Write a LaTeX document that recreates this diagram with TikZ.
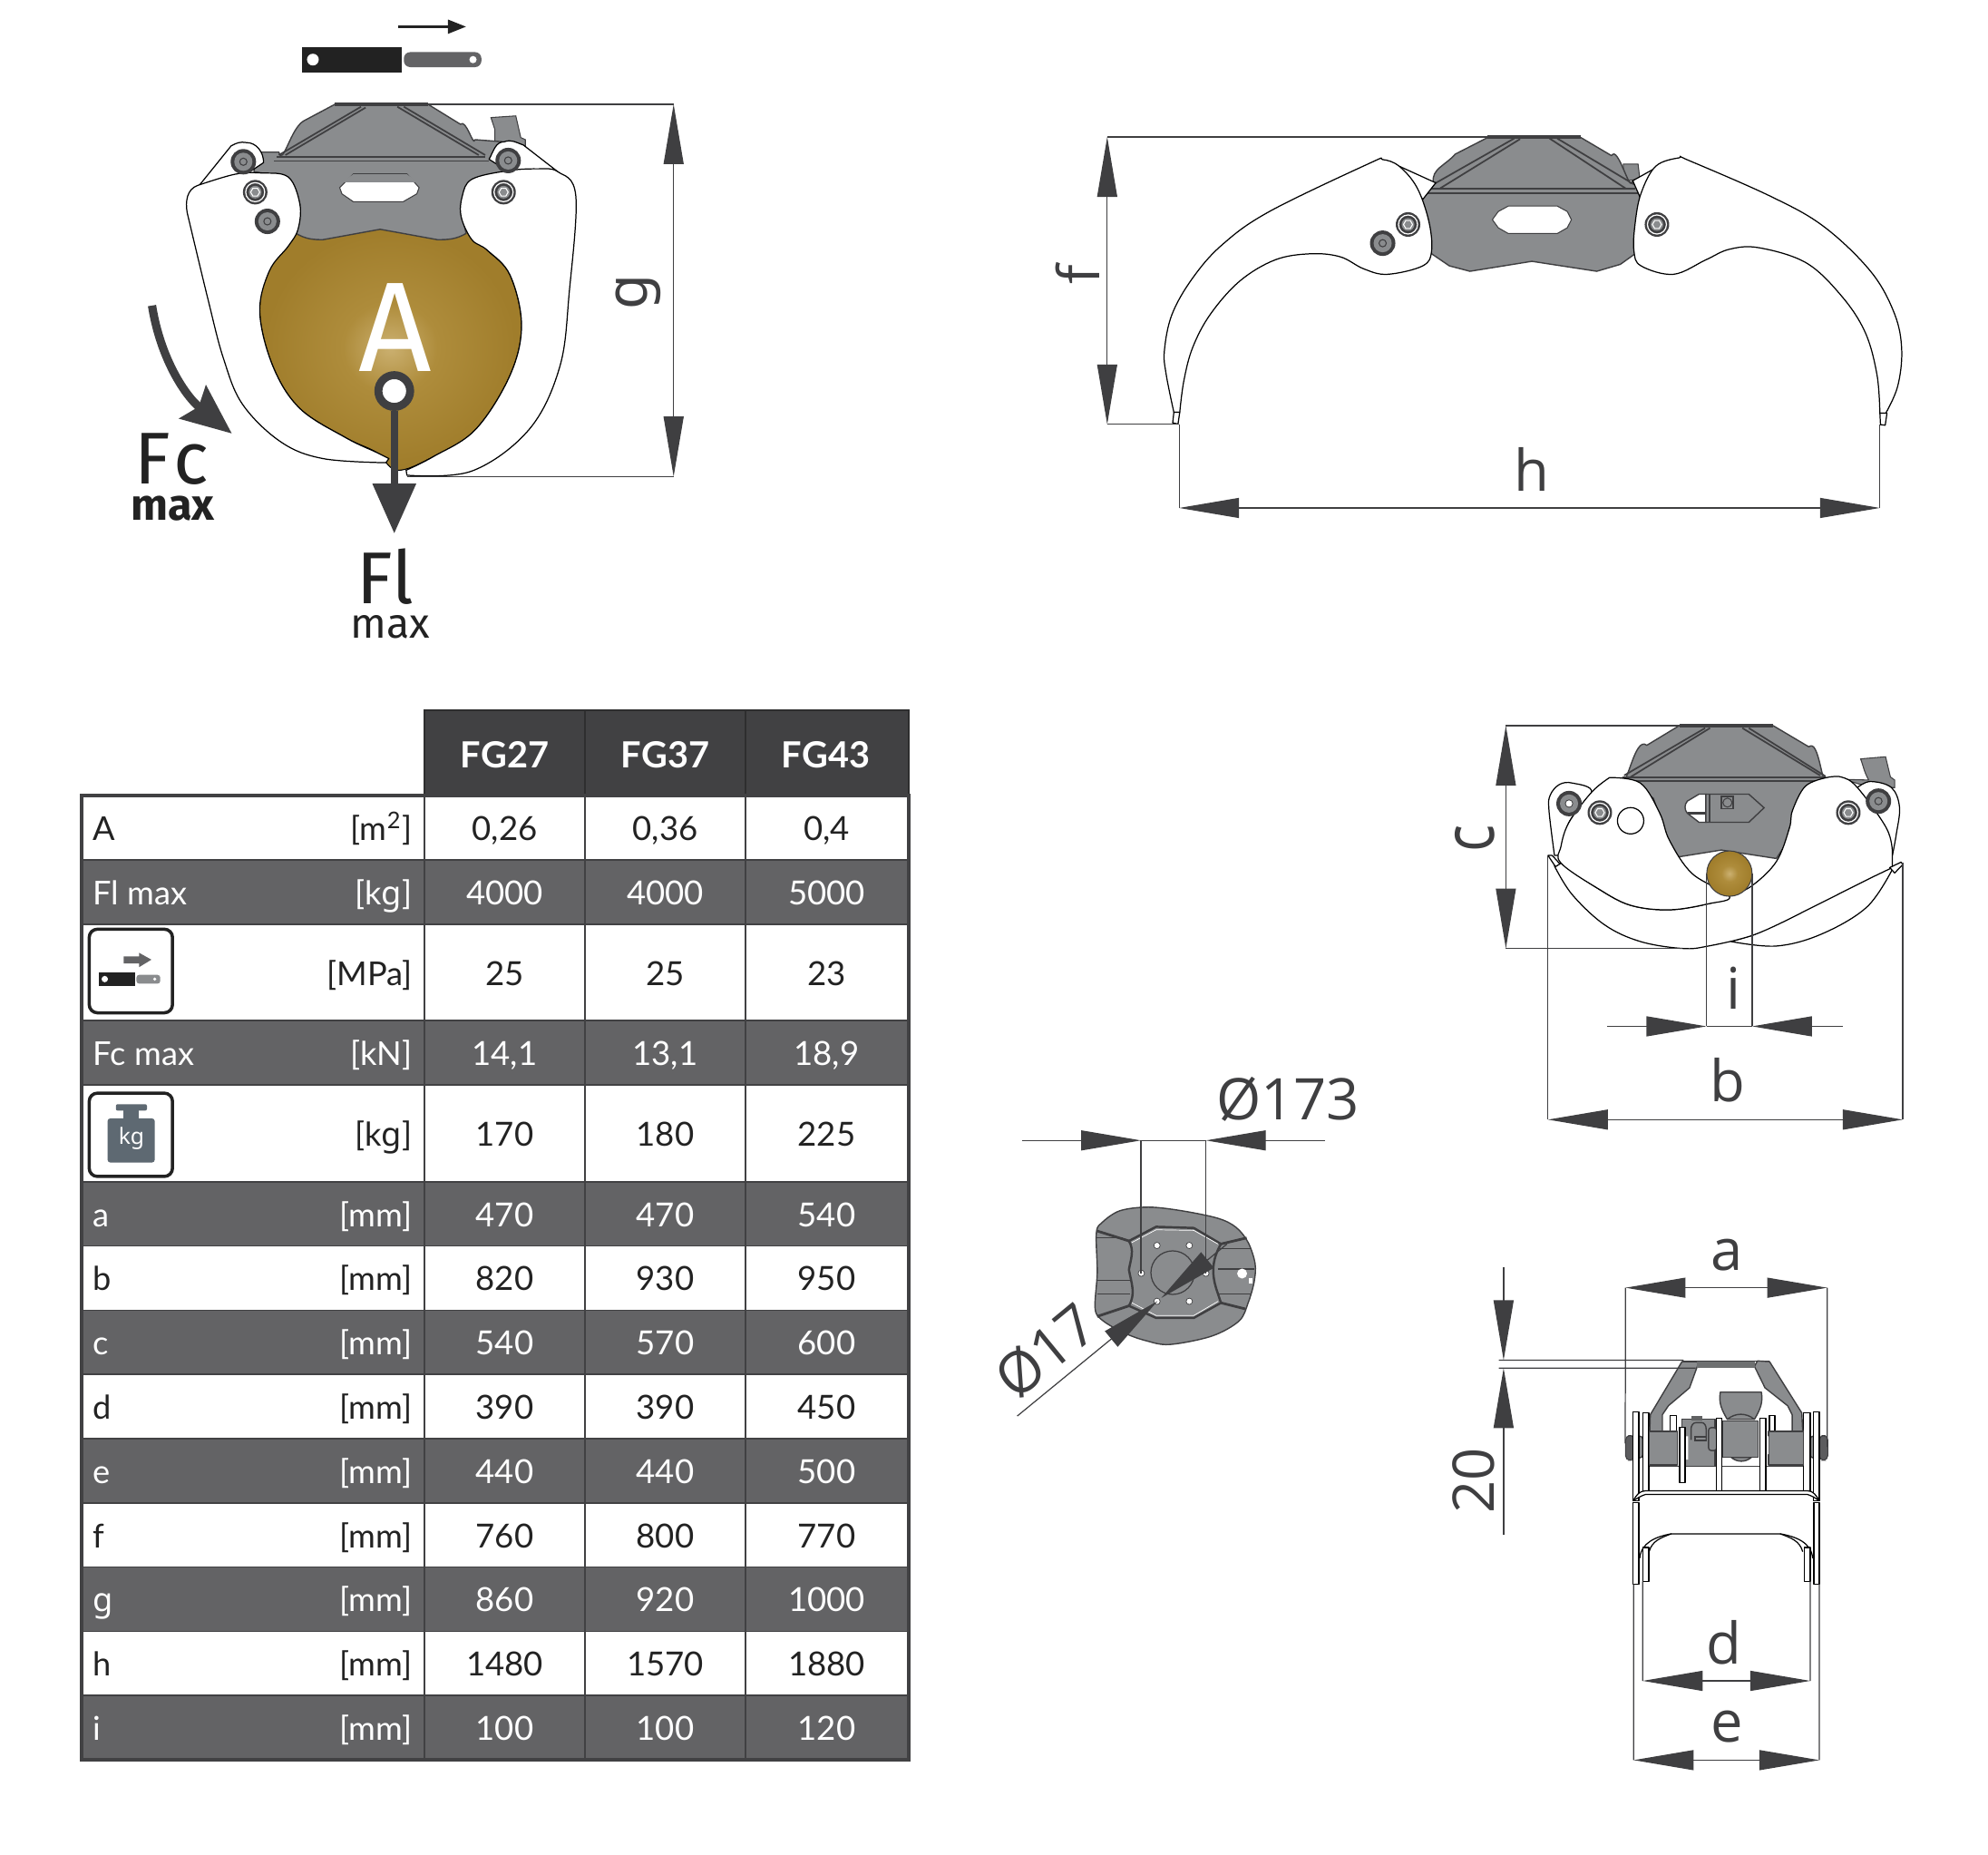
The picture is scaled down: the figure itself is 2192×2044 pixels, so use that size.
\documentclass[tikz,border=0pt]{standalone}
\usepackage{fontspec}
\setmainfont{Lato}
\newfontfamily\dimfont{Open Sans}
\newfontfamily\bigfont{Fira Sans}
\newfontfamily\gfont{Noto Sans}
\usetikzlibrary{arrows.meta,calc}
\definecolor{dimink}{HTML}{3F3F41}
\definecolor{bodygrey}{HTML}{8A8C8E}
\definecolor{rowgrey}{HTML}{636365}
\definecolor{headgrey}{HTML}{414143}
\definecolor{cellink}{HTML}{222222}
\definecolor{loadbrown}{HTML}{A07D2B}
\definecolor{loadmid}{HTML}{AE8C3B}
\definecolor{loadlight}{HTML}{CBB070}
\definecolor{weightgrey}{HTML}{5E6972}
\pgfdeclareradialshading{loadglow}{\pgfpointorigin}{color(0bp)=(loadlight); color(9bp)=(loadmid); color(24bp)=(loadbrown); color(50bp)=(loadbrown)}
\tikzset{
  viewA/.style={shift={(120,0)},x=0.004209cm,y=-0.004591cm},
  viewB/.style={shift={(1120,120)},x=0.006506cm,y=-0.003333cm},
  viewC/.style={shift={(1580,780)},x=0.003571cm,y=-0.003333cm},
  viewD/.style={shift={(1090,1170)},x=0.003333cm,y=-0.003333cm},
  viewE/.style={shift={(1580,1350)},x=0.003333cm,y=-0.003954cm},
  viewF/.style={shift={(80,770)},x=0.006124cm,y=-0.003571cm},
  dimtip/.tip={Triangle[length=0.66cm,width=0.22cm]},
  dimline/.style={draw=dimink,line width=0.35pt,{dimtip}-{dimtip},dimink},
  dimhead/.style={draw=dimink,line width=0.35pt,-{dimtip},dimink},
  extline/.style={draw=dimink,line width=0.35pt},
  dimtext/.style={text=dimink,inner sep=0pt,font=\dimfont\fontsize{18}{20}\selectfont},
  jaw/.style={draw=black,fill=white,line width=0.35pt,line join=round},
  body/.style={draw=dimink,fill=bodygrey,line width=0.4pt,line join=round},
  edge/.style={draw=dimink,line width=0.5pt},
  celltext/.style={inner sep=0pt,font=\fontsize{10.3}{12}\selectfont},
  valtext/.style={inner sep=0pt,font=\fontsize{10.4}{12}\selectfont},
  headtext/.style={inner sep=0pt,text=white,font=\bfseries\fontsize{11.3}{13}\selectfont},
  iconbox/.style={draw=cellink,fill=white,line width=1pt,rounded corners=0.09cm},
  hexbolt/.pic={
    \fill[dimink] (0,0) circle[radius=0.135cm];
    \draw[white,line width=0.35pt] (0,0) circle[radius=0.105cm];
    \fill[bodygrey] (0,0) circle[radius=0.07cm];
    \draw[white,line width=0.3pt] (0:0.05cm)--(60:0.05cm)--(120:0.05cm)--(180:0.05cm)--(240:0.05cm)--(300:0.05cm)--cycle;
  },
  pinbolt/.pic={
    \fill[dimink] (0,0) circle[radius=0.14cm];
    \fill[bodygrey] (0,0) circle[radius=0.1cm];
    \draw[dimink,line width=0.3pt] (0,0) circle[radius=0.04cm];
  }
}
\begin{document}
\begin{tikzpicture}[x=0.01cm,y=-0.01cm]
\useasboundingbox (0,0) rectangle (2192,2044);

% closed grapple with load area
\begin{scope}[viewA]
\shade[shading=loadglow,draw=black,line width=0.3pt]
  plot[smooth cycle,tension=0.6] coordinates {(490,555) (420,640) (395,750) (430,880) (500,980) (620,1050) (700,1085) (755,1128) (850,1095) (960,1030) (1050,900) (1080,780) (1050,660) (990,600) (935,555) (710,540)};
\fill[bodygrey,draw=dimink,line width=0.3pt] (1000,282)--(1065,278)--(1078,330)--(1090,335)--(1090,350)--(1010,345)--(1010,310)--cycle;
\filldraw[body] (592,250)--(835,250)--(920,298) to[out=45,in=-100] (958,335)--(1030,340)--(1040,410)--(960,430)--(920,500)--(935,560) to[out=-150,in=0] (860,575)--(710,550)--(560,575) to[out=180,in=-30] (490,560)--(500,490)--(470,425)--(380,412)--(385,365)--(445,365) to[out=-75,in=-150] (510,290)--cycle;
\draw[edge] (440,376)--(985,376) (432,386)--(995,386);
\draw[edge] (445,372)--(660,256) (462,372)--(672,258) (755,256)--(968,372) (772,256)--(985,372);
\draw[line width=1.2pt,dimink] (592,251)--(835,251);
\filldraw[draw=dimink,fill=white,line width=0.3pt] (604,450)--(640,417)--(780,417)--(812,450)--(806,465)--(770,484)--(640,484)--(610,465)--cycle;
\fill[bodygrey] (608,437)--(640,418)--(780,418)--(808,437)--cycle;
% pivot ears
\filldraw[jaw] (232,450)--(320,350) to[out=30,in=170] (360,342) to[out=0,in=90] (405,390)--(340,430)--cycle;
\filldraw[jaw] (1175,412)--(1085,348) to[out=160,in=20] (1035,340) to[out=180,in=60] (995,382)--(1060,420)--cycle;
% jaws
\filldraw[jaw] plot[smooth,tension=0.6] coordinates {(725,1110) (560,1100) (450,1060) (350,970) (300,860) (260,720) (205,510)} to[out=100,in=200] (232,445) -- plot[smooth,tension=0.6] coordinates {(232,445) (330,418) (400,415) (470,425) (500,490) (495,550) (470,590) (420,650) (395,750) (430,880) (500,980) (620,1050) (700,1085) (733,1100)} --cycle;
\filldraw[jaw] plot[smooth,tension=0.6] coordinates {(778,1128) (850,1095) (960,1030) (1050,900) (1080,780) (1050,660) (990,600) (950,575) (922,520) (925,470) (950,430) (1040,410) (1120,405) (1175,412) (1222,470) (1205,700) (1180,880) (1100,1030) (950,1130) (780,1140)} --cycle;
\pic at (352,388) {pinbolt};
\pic at (1045,385) {pinbolt};
\pic at (383,461) {hexbolt};
\pic at (1033,461) {hexbolt};
\pic at (415,531) {pinbolt};
\node[inner sep=0pt,text=white,font=\bigfont\fontsize{40}{42}\selectfont] (loadA) at (749,785) {A};
% force arrows
\draw[dimink,line width=2.6pt,-{Stealth[length=0.55cm,width=0.46cm,inset=0.08cm]}] (113,733) .. controls (135,860) and (200,950) .. (322,1040);
\node[circle,draw=dimink,fill=white,line width=2.5pt,minimum size=0.35cm,inner sep=0pt] (flring) at (747,938) {};
\coordinate (fltip) at (747,1280);
\draw[dimink,line width=2.4pt,-{Triangle[length=0.55cm,width=0.46cm]}] (flring)--(fltip);
\node[anchor=base west,inner sep=0pt,text=cellink,font=\bigfont\fontsize{23}{25}\selectfont] (fclabel) at (66,1160) {F\kern1pt c};
\node[anchor=base,inner sep=0pt,text=cellink,font=\bigfont\bfseries\fontsize{13.8}{15}\selectfont] (fcmax) at (167,1247) {max};
\node[anchor=base west,inner sep=0pt,text=cellink,font=\bigfont\fontsize{23}{25}\selectfont] (fllabel) at (648,1449) {Fl};
\node[anchor=base,inner sep=0pt,text=cellink,font=\bigfont\fontsize{13.2}{15}\selectfont] (flmax) at (737,1530) {max};
% cylinder
\fill[cellink] (505,113) rectangle (767,173);
\fill[white] (534,143) circle[radius=0.065cm];
\fill[rowgrey,rounded corners=0.07cm] (772,125) rectangle (975,161);
\fill[white] (953,143) circle[radius=0.04cm];
\coordinate (stroke1) at (758,64);
\coordinate (stroke2) at (935,64);
\draw[cellink,line width=0.8pt,-{Triangle[length=0.2cm,width=0.15cm]}] (stroke1)--(stroke2);
% g
\coordinate (gtop) at (1478,250);
\coordinate (gbot) at (1478,1143);
\draw[extline] (835,250)--(gtop);
\draw[extline] (780,1143)--(gbot);
\draw[dimline] (gtop)--(gbot);
\node[dimtext,rotate=90,font=\gfont\fontsize{18}{20}\selectfont] (labg) at (1385,700) {g};
\end{scope}

% open grapple
\begin{scope}[viewB]
\fill[bodygrey,draw=dimink,line width=0.3pt] (1030,183)--(1055,183)--(1058,232)--(1030,240)--cycle;
\filldraw[body] (800,95)--(958,95)--(1010,155) to[out=60,in=-100] (1045,240)--(1062,278)--(1050,480)--(1025,515)--(985,538)--(875,505)--(770,538)--(735,520)--(705,480)--(685,280)--(708,245) to[out=100,in=-130] (745,150)--cycle;
\draw[edge] (700,265)--(1050,265) (688,280)--(1062,280);
\draw[edge] (708,250)--(845,98) (718,265)--(855,100) (905,98)--(1035,265) (918,98)--(1048,250);
\draw[line width=1.2pt,dimink] (800,94)--(958,94);
\filldraw[draw=dimink,fill=white,line width=0.3pt] (835,322)--(918,322)--(935,340)--(942,367)--(935,394)--(918,413)--(835,413)--(818,394)--(808,367)--(818,340)--cycle;
\filldraw[jaw] (650,190)--(712,245)--(690,300)--cycle;
\filldraw[jaw] (1090,190)--(1046,238)--(1060,300)--cycle;
\filldraw[jaw] plot[smooth,tension=0.6] coordinates {(268,1005) (255,880) (252,800) (265,680) (300,560) (350,450) (430,340) (600,180) (622,168) (650,190) (680,260) (700,370) (705,470) (690,520) (630,548) (590,530) (550,490) (500,480) (440,500) (380,570) (330,680) (300,790) (285,900) (278,1005)} --cycle;
\filldraw[jaw] (268,1005)--(266,1040)--(275,1044)--(278,1005)--cycle;
\filldraw[jaw] plot[smooth,tension=0.6] coordinates {(1475,1008) (1495,920) (1502,800) (1490,680) (1450,540) (1370,390) (1280,290) (1140,170) (1125,162) (1085,190) (1060,280) (1050,380) (1048,470) (1060,520) (1115,548) (1170,500) (1210,465) (1260,460) (1340,510) (1400,620) (1440,740) (1460,880) (1465,1008)} --cycle;
\filldraw[jaw] (1465,1008)--(1466,1046)--(1474,1048)--(1477,1008)--cycle;
\pic at (665,383) {hexbolt};
\pic at (1087,383) {hexbolt};
\pic at (622,445) {pinbolt};
\coordinate (ftop) at (155,93);
\coordinate (fbot) at (155,1045);
\coordinate (hleft) at (277,1322);
\coordinate (hright) at (1465,1322);
\draw[extline] (ftop)--(800,93) (fbot)--(277,1045) (277,1045)--(hleft) (1465,1045)--(hright);
\draw[dimline] (ftop)--(fbot);
\draw[dimline] (hleft)--(hright);
\node[dimtext,rotate=90] (labf) at (105,550) {f};
\node[dimtext] (labh) at (875,1195) {h};
\end{scope}

% half closed grapple, small load
\begin{scope}[viewC]
\fill[bodygrey,draw=dimink,line width=0.3pt] (1320,170)--(1397,163)--(1412,230)--(1425,240)--(1425,265)--(1350,265)--(1270,238)--(1345,240) to[out=120,in=-70] cycle;
\filldraw[body] (760,60)--(1050,60)--(1160,130) to[out=40,in=-110] (1215,232)--(1150,300)--(1100,400)--(1090,450)--(1060,500)--(890,472)--(756,495)--(730,450)--(680,300)--(580,235) to[out=-70,in=140] (660,125)--cycle;
\draw[edge] (585,232)--(1212,232) (600,244)--(1200,244);
\draw[edge] (590,225)--(840,68) (610,230)--(855,68) (955,68)--(1195,225) (975,68)--(1212,228);
\draw[line width=1pt,dimink] (760,60)--(1050,60);
\filldraw[draw=dimink,fill=white,line width=0.4pt] (842,287)--(821,287)--(785,310) to[out=-130,in=130] (785,350)--(821,380)--(842,380)--cycle;
\draw[dimink,line width=0.6pt] (786,350)--(842,350);
\filldraw[draw=dimink,fill=bodygrey,line width=0.4pt] (842,287)--(975,287)--(1022,332)--(975,380)--(842,380)--cycle;
\draw[dimink,line width=0.4pt] (854,287)--(854,380);
\draw[dimink,line width=0.5pt] (891,295) rectangle (927,335);
\draw[dimink,line width=0.3pt] (909,315) circle[radius=0.05cm];
% ears
\filldraw[jaw] plot[smooth,tension=0.6] coordinates {(375,490) (358,340) (362,290) (390,255) (430,250) (490,280) (420,380) (395,490)} --cycle;
\filldraw[jaw] plot[smooth,tension=0.6] coordinates {(1310,265) (1350,245) (1415,265) (1440,330) (1430,420) (1418,490)} --cycle;
% jaws
\filldraw[jaw] plot[smooth,tension=0.6] coordinates {(1420,532) (1340,660) (1200,750) (1060,790) (920,775)} --(985,755)--(1415,525)--cycle;
\filldraw[jaw] plot[smooth,tension=0.6] coordinates {(1215,232) (1260,230) (1310,265) (1400,400) (1418,480)} --(1418,530)--(1350,565)--(1100,700)--plot[smooth,tension=0.6] coordinates {(1100,700) (985,755) (850,790) (770,798) (640,775) (530,720) (430,620) (375,525)} --(395,515)--plot[smooth,tension=0.6] coordinates {(395,515) (510,600) (610,655) (730,670) (850,650) (915,625) (985,590) (1060,510) (1100,400) (1110,340) (1150,260) (1215,232)} --cycle;
\filldraw[jaw] plot[smooth,tension=0.6] coordinates {(545,232) (640,250) (700,350) (730,440) (800,550) (915,625) (850,650) (730,670) (610,655) (510,600) (395,515) (395,460) (420,380) (490,280) (545,232)} --cycle;
\filldraw[jaw] (355,490)--(368,490)--(392,518)--(378,527)--cycle;
\filldraw[jaw] (1445,512)--(1450,520)--(1425,548)--(1410,530)--cycle;
\shade[shading=loadglow,draw=dimink,line width=0.3pt] (915,550) circle[radius=0.25cm];
\draw[jaw,fill=white] (610,375) circle[radius=0.145cm];
\pic at (420,318) {pinbolt};
\fill[white] (420,318) circle[radius=0.035cm];
\pic at (515,348) {hexbolt};
\pic at (1282,348) {hexbolt};
\pic at (1375,310) {pinbolt};
\coordinate (ctop) at (225,60);
\coordinate (cbot) at (225,798);
\coordinate (ileft) at (844,1056);
\coordinate (iright) at (985,1056);
\coordinate (ifar1) at (538,1056);
\coordinate (ifar2) at (1265,1056);
\coordinate (bleft) at (355,1365);
\coordinate (bright) at (1450,1365);
\draw[extline] (ctop)--(760,60) (cbot)--(770,798) (844,550)--(ileft) (985,550)--(iright) (355,490)--(bleft) (1450,515)--(bright) (ileft)--(iright);
\draw[dimline] (ctop)--(cbot);
\draw[dimline] (bleft)--(bright);
\draw[dimhead] (ifar1)--(ileft);
\draw[dimhead] (ifar2)--(iright);
\node[dimtext,rotate=90,yscale=1.25] (labc) at (129,435) {c};
\node[dimtext] (labi) at (927,930) {i};
\node[dimtext] (labb) at (910,1235) {b};
\end{scope}

% rotator plate from below
\begin{scope}[viewD]
\filldraw[body] plot[smooth cycle,tension=0.55] coordinates {(357,570) (375,535) (435,495) (530,483) (640,495) (760,520) (820,550) (860,600) (883,670) (880,730) (860,800) (830,860) (740,910) (600,938) (520,925) (450,900) (380,860) (353,820) (360,700)};
\draw[dimink,line width=0.7pt,line join=round] (465,595)--(555,548)--(680,552)--(770,605) to[out=-120,in=110] (760,770)--(770,800)--(680,850)--(555,850)--(465,810) to[out=60,in=-80] (465,690) to[out=80,in=-60] cycle;
\draw[white,line width=0.2pt] (475,600)--(555,558)--(680,560)--(760,605) (475,800)--(555,842)--(680,842)--(760,795);
\draw[edge,line width=0.8pt] (360,562)--(465,595) (855,585)--(770,605) (360,845)--(465,810) (850,820)--(770,800);
\draw[dimink,line width=0.35pt] (357,585)--(445,585) (360,725)--(470,725) (360,770)--(470,770) (760,620)--(870,620) (760,688)--(880,688) (760,770)--(870,770);
\draw[dimink,line width=0.35pt] (610,700) circle[radius=0.24cm];
\foreach \hx/\hy in {558/610,665/610,506/702,720/702,558/795,665/795}
  \filldraw[fill=white,draw=dimink,line width=0.2pt] (\hx,\hy) circle[radius=0.035cm];
\fill[white] (840,703) circle[radius=0.055cm];
\fill[white] (862,718) rectangle (875,736);
\coordinate (boltleft) at (505,262);
\coordinate (boltright) at (720,262);
\coordinate (boltfar1) at (110,262);
\coordinate (boltfar2) at (1115,262);
\draw[extline] (boltleft)--(505,702) (boltright)--(720,702) (boltleft)--(boltright);
\draw[dimhead] (boltfar1)--(boltleft);
\draw[dimhead] (boltfar2)--(boltright);
\node[dimtext] (labcircle) at (992,125) {Ø173};
\coordinate (holefar1) at (95,1175);
\coordinate (holefar2) at (790,605);
\coordinate (holetip1) at (560,794);
\coordinate (holetip2) at (572,784);
\draw[dimhead] (holefar1)--(holetip1);
\draw[dimhead] (holefar2)--(holetip2);
\node[dimtext,rotate=39.4] (labhole) at (190,960) {Ø17};
\end{scope}

% side view
\begin{scope}[viewE]
\filldraw[body] (952,467)--(1088,467) to[out=-80,in=60] (1065,543)--(975,543) to[out=120,in=-100] cycle;
\filldraw[body] (825,543) rectangle (935,674);
\draw[dimink,fill=bodygrey,line width=0.4pt] (855,600)--(855,570) to[out=90,in=180] (872,552)--(890,552) to[out=0,in=90] (905,570)--(905,600);
\draw[dimink,line width=0.4pt] (868,592) rectangle (905,602);
\fill[bodygrey!70!black] (855,534) rectangle (893,546);
\filldraw[body,rounded corners=0.03cm] (913,566) rectangle (940,630);
\filldraw[body] (988,649) to[out=-40,in=-140] (1055,649)--cycle;
\filldraw[draw=dimink,fill=dimink!85!white,line width=0.3pt,rounded corners=0.05cm] (638,588) rectangle (668,657);
\filldraw[draw=dimink,fill=dimink!85!white,line width=0.3pt,rounded corners=0.05cm] (1280,588) rectangle (1308,657);
\filldraw[body,rounded corners=0.03cm] (668,590) rectangle (695,650);
\filldraw[body,rounded corners=0.03cm] (1250,590) rectangle (1278,650);
\draw[dimink,line width=0.5pt] (715,674)--(1230,674);
\filldraw[jaw] (785,532) rectangle (807,577);
\filldraw[jaw] (1115,532) rectangle (1133,577);
\filldraw[jaw] (695,525) rectangle (715,745);
\filldraw[jaw] (1228,525) rectangle (1250,745);
\filldraw[jaw] (663,522) rectangle (682,770);
\filldraw[jaw] (1260,522) rectangle (1280,770);
\filldraw[body] (825,382)--(720,530)--(718,580)--(760,580)--(760,530)--(780,505)--(850,455)--(878,390)--(875,382)--cycle;
\filldraw[body] (1115,382)--(1222,525)--(1225,578)--(1190,578)--(1190,530)--(1175,505)--(1100,455)--(1065,395)--(1075,380)--cycle;
\fill[dimink] (825,379) rectangle (1115,383);
\fill[bodygrey!80!black] (875,383) rectangle (1068,399);
\filldraw[body] (717,577) rectangle (810,670);
\filldraw[body] (1112,577) rectangle (1227,670);
\filldraw[body] (958,548) rectangle (1078,649);
\draw[dimink,line width=0.4pt] (975,543) to[out=40,in=140] (1065,543);
\fill[white] (835,590) rectangle (845,655) (1103,590) rectangle (1112,640);
\filldraw[jaw] (817,566) rectangle (835,719);
\filldraw[jaw] (938,539) rectangle (958,742);
\filldraw[jaw] (1083,539) rectangle (1103,742);
\filldraw[jaw] (663,770) to[out=60,in=180] (705,742)--(1240,742) to[out=0,in=120] (1280,770)--(1262,760) to[out=170,in=0] (1240,752)--(705,752) to[out=180,in=10] (683,760)--cycle;
\filldraw[jaw] (663,775) rectangle (682,1002);
\filldraw[jaw] (1262,775) rectangle (1280,1002);
\draw[jaw,fill=none] (685,930) to[out=85,in=190] (790,862)--(1150,862) to[out=-10,in=95] (1258,930);
\draw[jaw,fill=none] (716,912) to[out=75,in=200] (790,862) (1225,912) to[out=105,in=-20] (1150,862);
\filldraw[jaw] (695,900) rectangle (715,995);
\filldraw[jaw] (1230,900) rectangle (1250,995);
\coordinate (aleft) at (638,176);
\coordinate (aright) at (1306,176);
\coordinate (ttop) at (234,378);
\coordinate (tbot) at (234,400);
\coordinate (tfar1) at (234,118);
\coordinate (tfar2) at (234,865);
\coordinate (dleft) at (695,1272);
\coordinate (dright) at (1250,1272);
\coordinate (eleft) at (665,1493);
\coordinate (eright) at (1280,1493);
\draw[extline] (aleft)--(637,610) (aright)--(1306,620) (218,378)--(830,378) (218,400)--(870,400) (695,995)--(dleft) (1250,995)--(dright) (665,1002)--(eleft) (1280,1002)--(eright);
\draw[dimline] (aleft)--(aright);
\draw[dimline] (dleft)--(dright);
\draw[dimline] (eleft)--(eright);
\draw[dimhead] (tfar1)--(ttop);
\draw[dimhead] (tfar2)--(tbot);
\node[dimtext] (laba) at (975,85) {a};
\node[dimtext] (labd) at (965,1165) {d};
\node[dimtext] (labe) at (975,1400) {e};
\node[dimtext,rotate=90] (lab20) at (135,715) {20};
\end{scope}

% table
\foreach \colx/\colw/\colname in {468/177/FG27,645/177/FG37,822/180/FG43}{
  \filldraw[fill=headgrey,draw=headgrey!70!black,line width=0.5pt] (\colx,783) rectangle ++(\colw,94);
  \node[headtext,anchor=base] (head\colname) at (\colx+88.5,846.5) {\colname};
}
\foreach \rowid/\ytop/\ybot/\lab/\unit/\va/\vb/\vc/\rowfill/\rowink in {
  area/877/948/A/{[m\textsuperscript{2}]}/{0,26}/{0,36}/{0,4}/white/cellink,
  lift/948/1019/Fl max/{[k{\gfont g}]}/4000/4000/5000/rowgrey/white,
  press/1019/1125//{[MPa]}/25/25/23/white/cellink,
  close/1125/1196/Fc max/{[kN]}/{14,1}/{13,1}/{18,9}/rowgrey/white,
  mass/1196/1302.7//{[k{\gfont g}]}/170/180/225/white/cellink,
  a/1302.7/1373.5/a/{[mm]}/470/470/540/rowgrey/white,
  b/1373.5/1444.3/b/{[mm]}/820/930/950/white/cellink,
  c/1444.3/1515.1/c/{[mm]}/540/570/600/rowgrey/white,
  d/1515.1/1585.9/d/{[mm]}/390/390/450/white/cellink,
  e/1585.9/1656.7/e/{[mm]}/440/440/500/rowgrey/white,
  f/1656.7/1727.5/f/{[mm]}/760/800/770/white/cellink,
  g/1727.5/1798.3/{\gfont g}/{[mm]}/860/920/1000/rowgrey/white,
  h/1798.3/1869.1/h/{[mm]}/1480/1570/1880/white/cellink,
  i/1869.1/1940/i/{[mm]}/100/100/120/rowgrey/white}{
  \pgfmathsetmacro\ybase{(\ytop+\ybot)/2+14}
  \filldraw[fill=\rowfill,draw=headgrey,line width=0.45pt] (90,\ytop) rectangle (1002,\ybot);
  \node[celltext,text=\rowink,anchor=base west] (lab\rowid) at (102,\ybase) {\lab};
  \node[celltext,text=\rowink,anchor=base east] (unit\rowid) at (455,\ybase) {\unit};
  \node[valtext,text=\rowink,anchor=base] (val\rowid1) at (556.5,\ybase) {\va};
  \node[valtext,text=\rowink,anchor=base] (val\rowid2) at (733.5,\ybase) {\vb};
  \node[valtext,text=\rowink,anchor=base] (val\rowid3) at (911.5,\ybase) {\vc};
}
\draw[headgrey,line width=0.7pt] (468,877)--(468,1940) (645,877)--(645,1940) (822,877)--(822,1940);
\draw[headgrey,line width=0.9pt] (90,877) rectangle (1002,1940);

% table icons
\begin{scope}[viewF]
\filldraw[iconbox] (30,712) rectangle (180,970);
\fill[cellink] (48,845) rectangle (113,887);
\fill[white] (58,866) circle[radius=0.035cm];
\fill[bodygrey,rounded corners=0.03cm] (115,853) rectangle (158,880);
\fill[white] (148,866) circle[radius=0.018cm];
\fill[rowgrey] (92,796)--(120,796)--(120,785)--(142,806)--(120,829)--(120,818)--(92,818)--cycle;
\filldraw[iconbox] (30,1218) rectangle (180,1475);
\fill[weightgrey,rounded corners=0.02cm] (78,1252) rectangle (134,1272);
\fill[weightgrey] (92,1270) rectangle (120,1298);
\fill[weightgrey,rounded corners=0.03cm] (63,1296) rectangle (148,1432);
\node[inner sep=0pt,text=white,font=\gfont\fontsize{7}{8}\selectfont] (kgmark) at (106,1358) {kg};
\end{scope}
\end{tikzpicture}
\end{document}
